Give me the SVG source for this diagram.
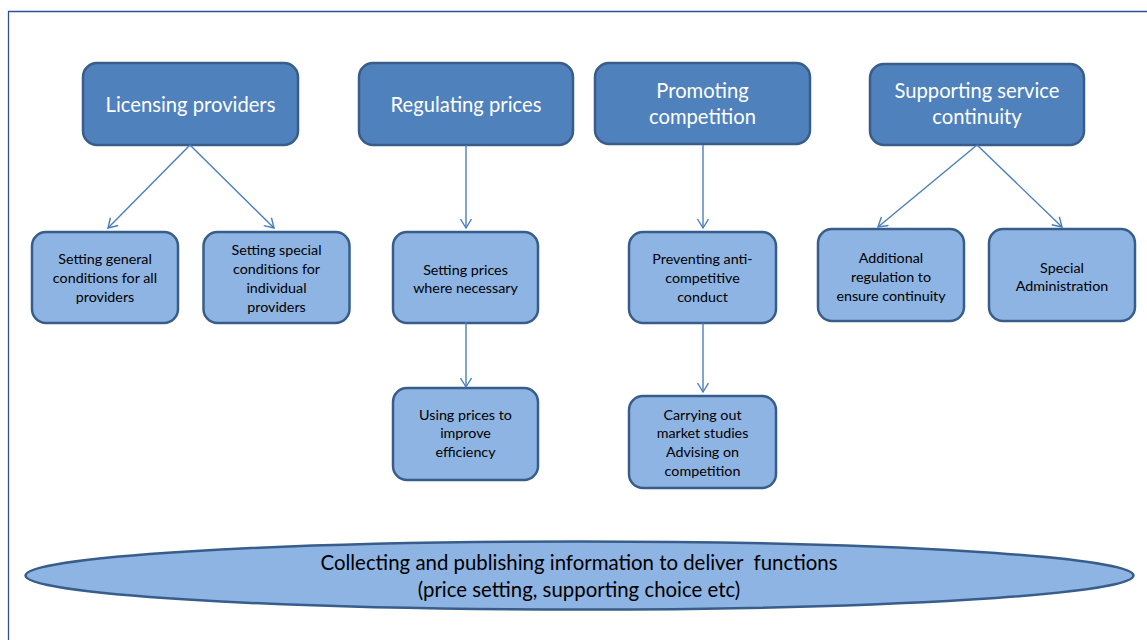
<svg xmlns="http://www.w3.org/2000/svg" width="1147" height="640" viewBox="0 0 1147 640">
<defs>
<marker id="arr" markerWidth="14" markerHeight="14" refX="10" refY="6" orient="auto" markerUnits="userSpaceOnUse">
<path d="M1,0.5 L10,6 L1,11.5" fill="none" stroke="#4A7EBB" stroke-width="1.4"/>
</marker>
<style>
.top{fill:#4F81BD;stroke:#385D8A;stroke-width:2.5}
.sub{fill:#8EB4E3;stroke:#385D8A;stroke-width:2.5}
.tt{font-family:Lato,"Liberation Sans",sans-serif;font-size:20.2px;fill:#FFFFFF;text-anchor:middle}
.st{font-family:Lato,"Liberation Sans",sans-serif;font-size:14.3px;fill:#000000;text-anchor:middle}
.et{font-family:Lato,"Liberation Sans",sans-serif;font-size:20.4px;fill:#000000;text-anchor:middle}
.con line{stroke:#4A7EBB;stroke-width:1.4;fill:none;marker-end:url(#arr)}
</style>
</defs>
<rect width="1147" height="640" fill="#FFFFFF"/>
<path d="M8.5,640 L8.5,11.5 L1147,11.5" fill="none" stroke="#2F528F" stroke-width="1.3"/>

<g id="n-licensing"><rect class="top" x="83" y="63" width="215" height="82" rx="14"/><text class="tt" x="190.5" y="112">Licensing providers</text></g>
<g id="n-regulating"><rect class="top" x="359" y="63" width="214" height="82" rx="14"/><text class="tt" x="466" y="112">Regulating prices</text></g>
<g id="n-promoting"><rect class="top" x="595" y="63" width="215" height="81" rx="14"/><text class="tt" x="702.5" y="98">Promoting</text><text class="tt" x="702.5" y="124">competition</text></g>
<g id="n-supporting"><rect class="top" x="870" y="64" width="214" height="81" rx="14"/><text class="tt" x="977" y="98">Supporting service</text><text class="tt" x="977" y="124">continuity</text></g>

<g id="n-general"><rect class="sub" x="32" y="232" width="146" height="91" rx="14"/><text class="st" x="105" y="264">Setting general</text><text class="st" x="105" y="283">conditions for all</text><text class="st" x="105" y="302">providers</text></g>
<g id="n-special"><rect class="sub" x="203.5" y="232" width="146" height="91" rx="14"/><text class="st" x="276.5" y="255">Setting special</text><text class="st" x="276.5" y="273.5">conditions for</text><text class="st" x="276.5" y="292.5">individual</text><text class="st" x="276.5" y="311.5">providers</text></g>
<g id="n-setprices"><rect class="sub" x="393" y="232" width="145" height="91" rx="14"/><text class="st" x="465.5" y="274.5">Setting prices</text><text class="st" x="465.5" y="292.5">where necessary</text></g>
<g id="n-useprices"><rect class="sub" x="393" y="388" width="145" height="92" rx="14"/><text class="st" x="465.5" y="419.5">Using prices to</text><text class="st" x="465.5" y="438">improve</text><text class="st" x="465.5" y="457">efficiency</text></g>
<g id="n-preventing"><rect class="sub" x="629" y="232" width="147" height="91" rx="14"/><text class="st" x="702.5" y="263.5">Preventing anti-</text><text class="st" x="702.5" y="282.5">competitive</text><text class="st" x="702.5" y="301.5">conduct</text></g>
<g id="n-carrying"><rect class="sub" x="629" y="396" width="147" height="92" rx="14"/><text class="st" x="702.5" y="419.5">Carrying out</text><text class="st" x="702.5" y="438">market studies</text><text class="st" x="702.5" y="456.5">Advising on</text><text class="st" x="702.5" y="475.5">competition</text></g>
<g id="n-additional"><rect class="sub" x="818" y="229" width="146" height="92" rx="14"/><text class="st" x="891" y="262.5">Additional</text><text class="st" x="891" y="281.5">regulation to</text><text class="st" x="891" y="300.5">ensure continuity</text></g>
<g id="n-specialadmin"><rect class="sub" x="989" y="229" width="146" height="92" rx="14"/><text class="st" x="1062" y="272.5">Special</text><text class="st" x="1062" y="290.5">Administration</text></g>

<g id="n-collecting"><ellipse class="sub" cx="579.5" cy="575.5" rx="554" ry="34"/><text class="et" x="579" y="570" xml:space="preserve">Collecting and publishing information to deliver  functions</text><text class="et" x="579" y="597">(price setting, supporting choice etc)</text></g>

<g id="connectors" class="con">
<line x1="190" y1="145" x2="108" y2="228"/>
<line x1="190" y1="145" x2="274" y2="228"/>
<line x1="466" y1="145" x2="466" y2="228"/>
<line x1="466" y1="322" x2="466" y2="387"/>
<line x1="703" y1="145" x2="703" y2="228"/>
<line x1="703" y1="323" x2="703" y2="392"/>
<line x1="977" y1="145" x2="878" y2="227"/>
<line x1="977" y1="145" x2="1062" y2="227"/>
</g>
</svg>
